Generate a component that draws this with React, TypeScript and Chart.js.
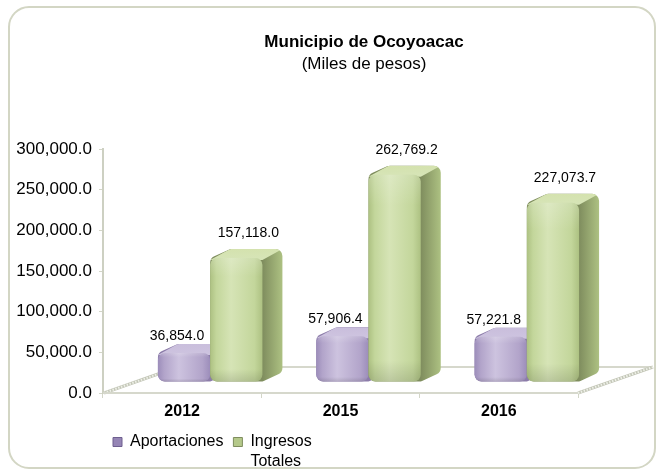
import React, { useEffect, useRef } from 'react';
import { Chart, registerables } from 'chart.js';

Chart.register(...registerables);

// ---- data ----
const categories = ['2012', '2015', '2016'];
const aportaciones = [36854.0, 57906.4, 57221.8];
const ingresosTotales = [157118.0, 262769.2, 227073.7];
const seriesNames = ['Aportaciones', 'Ingresos Totales'];
const legendLines = [['Aportaciones'], ['Ingresos', 'Totales']];
const titleText = 'Municipio de Ocoyoacac';
const subtitleText = '(Miles de pesos)';
const yMin = 0;
const yMax = 300000;
const yStep = 50000;

const FONT = '"Liberation Sans", Arial, Helvetica, sans-serif';

const fmt = (v: number) =>
  Number(v).toLocaleString('en-US', { minimumFractionDigits: 1, maximumFractionDigits: 1 });

type Palette = { front: string; light: string; dark: string; top: string; side: string; legend: string; legendBorder: string };
const palettes: Palette[] = [
  { front: '#b2a4ca', light: '#cdc3df', dark: '#9c8dba', top: '#c9bedc', side: '#8c7ca9', legend: '#9585b5', legendBorder: '#6e5f8f' },
  { front: '#c3d69b', light: '#d6e4b6', dark: '#adc182', top: '#d4e2ae', side: '#7f8d5e', legend: '#b5c98a', legendBorder: '#7f8d5e' },
];

const LEGEND_HEIGHT = 48;

function roundPoly(ctx: CanvasRenderingContext2D, pts: number[][], r: number) {
  const n = pts.length;
  const last = pts[n - 1];
  const first = pts[0];
  ctx.beginPath();
  ctx.moveTo((last[0] + first[0]) / 2, (last[1] + first[1]) / 2);
  for (let i = 0; i < n; i++) {
    const p = pts[i];
    const q = pts[(i + 1) % n];
    ctx.arcTo(p[0], p[1], q[0], q[1], r);
  }
  ctx.closePath();
}

const threeD = {
  id: 'threeD',
  beforeLayout(chart: any) {
    const lg = chart.legend;
    if (lg && !lg.__patched) {
      const orig = lg.fit.bind(lg);
      lg.fit = () => {
        orig();
        lg.height = LEGEND_HEIGHT;
      };
      lg.__patched = true;
    }
  },
  beforeDraw(chart: any) {
    const { ctx, width, height } = chart;
    ctx.save();
    ctx.fillStyle = '#ffffff';
    ctx.fillRect(0, 0, width, height);
    ctx.strokeStyle = '#d3d6c4';
    ctx.lineWidth = 2;
    ctx.beginPath();
    (ctx as any).roundRect(9, 7, width - 11, height - 11, 20);
    ctx.stroke();
    ctx.restore();
  },
  afterDatasetsDraw(chart: any) {
    const { ctx, chartArea: a, scales } = chart;
    const ys = scales.y;
    const y0 = ys.getPixelForValue(0);
    const fdx = 75, fdy = -26;
    ctx.save();
    // floor
    ctx.fillStyle = '#ffffff';
    ctx.beginPath();
    ctx.moveTo(a.left, y0);
    ctx.lineTo(a.right, y0);
    ctx.lineTo(a.right + fdx, y0 + fdy);
    ctx.lineTo(a.left + fdx, y0 + fdy);
    ctx.closePath();
    ctx.fill();
    ctx.strokeStyle = '#d6d8cc';
    ctx.lineWidth = 2;
    ctx.beginPath();
    ctx.moveTo(a.left + fdx, y0 + fdy);
    ctx.lineTo(a.right + fdx, y0 + fdy);
    ctx.stroke();
    const hatched = (x1: number, yA: number, x2: number, yB: number) => {
      ctx.setLineDash([]);
      ctx.strokeStyle = '#c4c7b8';
      ctx.lineWidth = 3;
      ctx.beginPath();
      ctx.moveTo(x1, yA);
      ctx.lineTo(x2, yB);
      ctx.stroke();
      ctx.setLineDash([1.5, 1.5]);
      ctx.strokeStyle = '#eef0e8';
      ctx.lineWidth = 2;
      ctx.beginPath();
      ctx.moveTo(x1, yA);
      ctx.lineTo(x2, yB);
      ctx.stroke();
      ctx.setLineDash([]);
    };
    hatched(a.left + 1, y0, a.left + fdx, y0 + fdy);
    hatched(a.right, y0, a.right + fdx, y0 + fdy);
    ctx.strokeStyle = '#d6d8cc';
    ctx.lineWidth = 2;
    ctx.beginPath();
    ctx.moveTo(a.left, y0);
    ctx.lineTo(a.right, y0);
    ctx.stroke();

    // bars
    const shiftX = 28, shiftY = -11, persp = 0.97;
    const bdx = 20, bdy = -9;
    const metas = [chart.getDatasetMeta(0), chart.getDatasetMeta(1)];
    const labelPos: { x: number; y: number; text: string }[] = [];
    for (let i = 0; i < categories.length; i++) {
      for (let d = 0; d < metas.length; d++) {
        const el = metas[d].data[i];
        const { x, y, base, width } = el.getProps(['x', 'y', 'base', 'width'], true);
        const L = x - width / 2 + shiftX;
        const R = x + width / 2 + shiftX;
        const B = base + shiftY;
        const T = B - (base - y) * persp;
        const p = palettes[d];
        const sil = [
          [L, B], [L, T], [L + bdx, T + bdy], [R + bdx, T + bdy], [R + bdx, B + bdy], [R, B],
        ];
        roundPoly(ctx, sil, 7);
        const sg = ctx.createLinearGradient(R, 0, R + bdx, 0);
        sg.addColorStop(0, p.side);
        sg.addColorStop(1, p.dark);
        ctx.fillStyle = sg;
        ctx.fill();
        ctx.save();
        roundPoly(ctx, sil, 7);
        ctx.clip();
        ctx.beginPath();
        ctx.moveTo(L, T + 2);
        ctx.lineTo(L + bdx, T + bdy);
        ctx.lineTo(R + bdx, T + bdy);
        ctx.lineTo(R, T + 2);
        ctx.closePath();
        const tg = ctx.createLinearGradient(0, T + bdy, 0, T);
        tg.addColorStop(0, p.top);
        tg.addColorStop(1, p.light);
        ctx.fillStyle = tg;
        ctx.fill();
        ctx.restore();
        const fg = ctx.createLinearGradient(L, 0, R, 0);
        fg.addColorStop(0, p.dark);
        fg.addColorStop(0.12, p.front);
        fg.addColorStop(0.4, p.light);
        fg.addColorStop(0.85, p.front);
        fg.addColorStop(1, p.dark);
        ctx.beginPath();
        (ctx as any).roundRect(L, T, R - L, B - T, 7);
        ctx.fillStyle = fg;
        ctx.fill();
        const vg = ctx.createLinearGradient(0, T, 0, B);
        vg.addColorStop(0, 'rgba(255,255,255,0.18)');
        vg.addColorStop(0.15, 'rgba(255,255,255,0)');
        vg.addColorStop(0.9, 'rgba(0,0,0,0)');
        vg.addColorStop(1, 'rgba(0,0,0,0.12)');
        ctx.fillStyle = vg;
        ctx.fill();
        const val = chart.data.datasets[d].data[i];
        labelPos.push({
          x: (L + R) / 2 + (d === 0 ? -7 : 12),
          y: T + (d === 0 ? -17 : -25),
          text: fmt(val),
        });
      }
    }
    ctx.fillStyle = '#000000';
    ctx.font = `14px ${FONT}`;
    ctx.textAlign = 'center';
    ctx.textBaseline = 'middle';
    labelPos.forEach((l) => ctx.fillText(l.text, l.x, l.y));

    // title
    ctx.font = `bold 17px ${FONT}`;
    ctx.fillText(titleText, 364, 42);
    ctx.font = `17px ${FONT}`;
    ctx.fillText(subtitleText, 364, 64);
    ctx.restore();
  },
};

export default function App() {
  const ref = useRef<HTMLCanvasElement | null>(null);
  useEffect(() => {
    if (!ref.current) return;
    const chart = new Chart(ref.current, {
      type: 'bar',
      data: {
        labels: categories,
        datasets: [
          { label: seriesNames[0], data: aportaciones, backgroundColor: 'rgba(0,0,0,0)', borderWidth: 0 },
          { label: seriesNames[1], data: ingresosTotales, backgroundColor: 'rgba(0,0,0,0)', borderWidth: 0 },
        ],
      },
      options: {
        responsive: false,
        animation: false,
        events: [],
        layout: { padding: { top: 149, right: 79, bottom: 0, left: 0 } },
        datasets: { bar: { barPercentage: 1, categoryPercentage: 0.66 } } as any,
        scales: {
          x: {
            ticks: { font: { family: FONT, size: 16, weight: 'bold' }, color: '#000', padding: 4 },
            grid: { drawOnChartArea: false, drawTicks: true, tickLength: 5, color: '#d3d6c8', offset: true },
            border: { display: true, color: '#d6d8cc', width: 2 },
            afterFit: (s: any) => { s.height = 31; },
          },
          y: {
            min: yMin,
            max: yMax,
            ticks: { stepSize: yStep, callback: (v: any) => fmt(v), font: { family: FONT, size: 17 }, color: '#000', padding: 7 },
            grid: { drawOnChartArea: false, drawTicks: true, tickLength: 4, color: '#d3d6c8' },
            border: { display: true, color: '#cdd0c2', width: 2 },
            afterFit: (s: any) => { s.width = 103; },
          },
        },
        plugins: {
          title: { display: false },
          tooltip: { enabled: false },
          legend: {
            display: true,
            position: 'bottom',
            align: 'start',
            fullSize: false,
            labels: {
              font: { family: FONT, size: 16 },
              color: '#000',
              boxWidth: 9,
              boxHeight: 9,
              padding: 10,
              generateLabels: () =>
                legendLines.map((lines, i) => ({
                  text: lines.length > 1 ? (lines as any) : lines[0],
                  fillStyle: palettes[i].legend,
                  strokeStyle: palettes[i].legendBorder,
                  lineWidth: 1,
                  hidden: false,
                  datasetIndex: i,
                  fontColor: '#000',
                })),
            },
          },
        },
      } as any,
      plugins: [threeD],
    });
    return () => chart.destroy();
  }, []);
  return (
    <div style={{ position: 'fixed', left: 0, top: 0, width: 657, height: 472, background: '#fff' }}>
      <canvas ref={ref} width={657} height={472} style={{ display: 'block' }} />
    </div>
  );
}
